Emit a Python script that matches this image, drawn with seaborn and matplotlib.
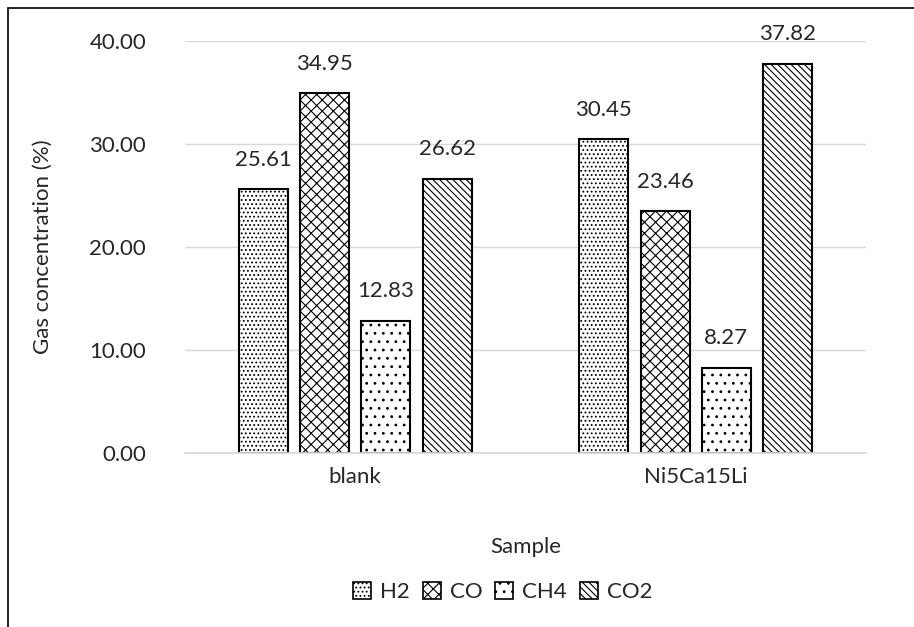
import matplotlib
matplotlib.use("Agg")
import matplotlib.pyplot as plt
import matplotlib.patches as mpatches
import pandas as pd
import seaborn as sns

samples = ["blank", "Ni5Ca15Li"]
gases = ["H2", "CO", "CH4", "CO2"]
h2 = [25.61, 30.45]
co = [34.95, 23.46]
ch4 = [12.83, 8.27]
co2 = [26.62, 37.82]

hatches = ["....", "xxx", "..", "\\\\\\\\\\"]

rows = []
for gas, vals in zip(gases, [h2, co, ch4, co2]):
    for s, v in zip(samples, vals):
        rows.append({"Sample": s, "Gas": gas, "value": v})
df = pd.DataFrame(rows)

sns.set_theme(style="white")
plt.rcParams["font.family"] = ["Lato", "DejaVu Sans"]
plt.rcParams["hatch.linewidth"] = 0.8

fs = 16
txt = "#262626"

fig = plt.figure(figsize=(9.14, 6.27), dpi=100)
ax = fig.add_axes([0.2024, 0.2775, 0.745, 0.657])

sns.barplot(data=df, x="Sample", y="value", hue="Gas", order=samples,
            hue_order=gases, palette=["white"] * 4, width=0.72, gap=0.2,
            edgecolor="black", linewidth=1.5, ax=ax, legend=False)

for i, cont in enumerate(ax.containers):
    for bar in cont:
        bar.set_hatch(hatches[i])
    ax.bar_label(cont, fmt="%.2f", padding=14, fontsize=fs, color=txt)

ax.set_ylim(0, 40)
ax.set_xlim(-0.5, 1.5)
ax.set_yticks([0, 10, 20, 30, 40])
ax.set_yticklabels([f"{t:.2f}" for t in [0, 10, 20, 30, 40]])
ax.yaxis.grid(True, color="#d9d9d9", linewidth=1)
ax.set_axisbelow(True)
for sp in ["top", "right", "left"]:
    ax.spines[sp].set_visible(False)
ax.spines["bottom"].set_color("#d9d9d9")
ax.tick_params(axis="both", length=0, labelsize=fs, colors=txt)
ax.tick_params(axis="x", pad=10)
ax.tick_params(axis="y", pad=28)
ax.set_xlabel("Sample", fontsize=fs, color=txt, labelpad=36)
ax.set_ylabel("Gas concentration (%)", fontsize=fs, color=txt, labelpad=26)

handles = [mpatches.Patch(facecolor="white", edgecolor="black", hatch=h, linewidth=1.2)
           for h in hatches]
fig.legend(handles, gases, loc="center", bbox_to_anchor=(0.55, 0.056), ncol=4,
           frameon=False, fontsize=fs, handlelength=0.8, handleheight=0.8,
           handletextpad=0.4, columnspacing=0.6)

fig.patches.append(mpatches.Rectangle((8 / 914, -0.1), 1.2, 1.1 - 8 / 627,
                                      transform=fig.transFigure, fill=False,
                                      edgecolor="black", linewidth=1.2))

fig.savefig("out.png", dpi=100)
